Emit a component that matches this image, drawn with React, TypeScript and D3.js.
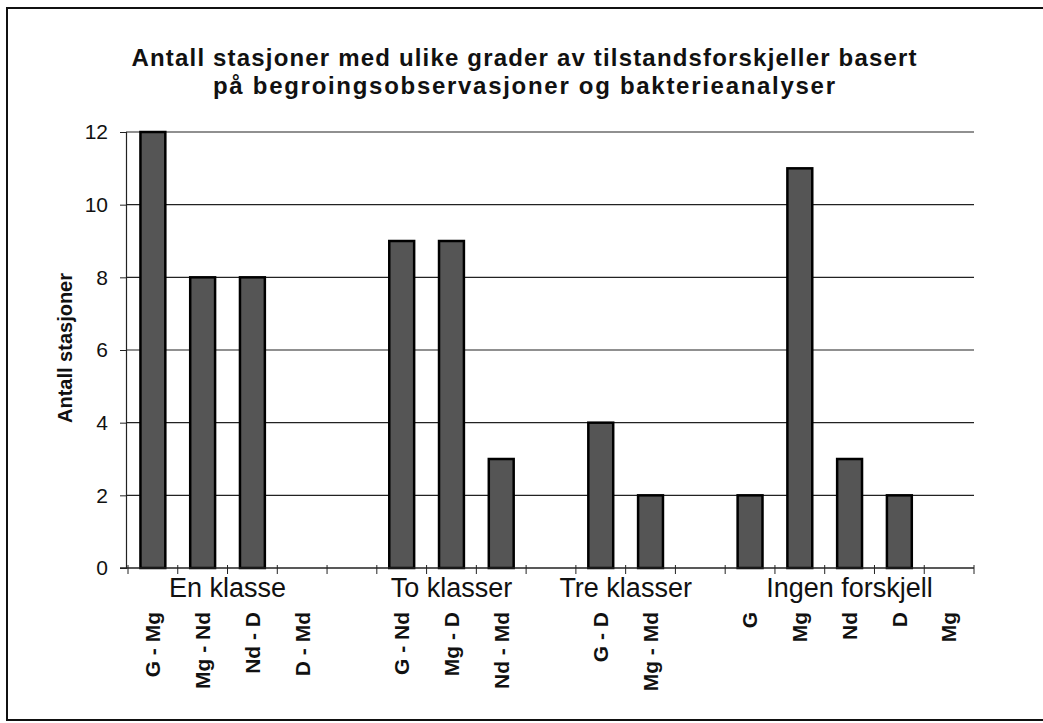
import React, { useEffect, useRef } from 'react';
import * as d3 from 'd3';

// category labels along the x axis ('' = empty slot between groups)
const categories = [
  'G - Mg', 'Mg - Nd', 'Nd - D', 'D - Md', '',
  'G - Nd', 'Mg - D', 'Nd - Md', '',
  'G - D', 'Mg - Md', '',
  'G', 'Mg', 'Nd', 'D', 'Mg',
];
// Antall stasjoner
const values = [12, 8, 8, 0, 0, 9, 9, 3, 0, 4, 2, 0, 2, 11, 3, 2, 0];
// group labels: first and last slot they cover
const groups = [
  { label: 'En klasse', from: 0, to: 3 },
  { label: 'To klasser', from: 5, to: 7 },
  { label: 'Tre klasser', from: 9, to: 10 },
  { label: 'Ingen forskjell', from: 12, to: 16 },
];
const yTicks = [0, 2, 4, 6, 8, 10, 12];
const titleLines = [
  'Antall stasjoner med ulike grader av tilstandsforskjeller basert',
  'på begroingsobservasjoner og bakterieanalyser',
];
const titleWidths = [785, 622];

const W = 1043;
const H = 723;
const FONT = '"Liberation Sans", Arial, Helvetica, sans-serif';

export default function App() {
  const ref = useRef<SVGSVGElement>(null);

  useEffect(() => {
    const svg = d3.select(ref.current);
    svg.selectAll('*').remove();

    const left = 126;
    const right = 974;
    const top = 132;
    const bottom = 568;

    // outer frame
    svg.append('rect')
      .attr('x', 7).attr('y', 8)
      .attr('width', 1060).attr('height', 712)
      .attr('fill', 'white')
      .attr('stroke', '#111').attr('stroke-width', 2);

    const idx = categories.map((_, i) => String(i));
    const x = d3.scaleBand<string>()
      .domain(idx)
      .range([128, right])
      .paddingInner(0.5)
      .paddingOuter(0.25);
    const step = x.step();
    const y = d3.scaleLinear().domain([0, 12]).range([bottom, top]);

    // gridlines
    svg.append('g')
      .selectAll('line')
      .data(yTicks.filter((d) => d > 0))
      .enter()
      .append('line')
      .attr('x1', left).attr('x2', right)
      .attr('y1', (d) => y(d)).attr('y2', (d) => y(d))
      .attr('stroke', '#222').attr('stroke-width', 1.2);

    // y axis
    const yAxis = d3.axisLeft(y).tickValues(yTicks).tickSize(6).tickPadding(12)
      .tickFormat((d) => String(d));
    const gy = svg.append('g')
      .attr('transform', `translate(${left},0)`)
      .call(yAxis);
    gy.select('.domain').attr('stroke', '#222').attr('stroke-width', 1.2);
    gy.selectAll('.tick line').attr('stroke', '#222');
    gy.selectAll('.tick text')
      .style('font-family', FONT)
      .style('font-size', '21px')
      .attr('fill', '#111');

    // bars
    svg.append('g')
      .selectAll('rect')
      .data(values.map((v, i) => ({ v, i })).filter((d) => d.v > 0))
      .enter()
      .append('rect')
      .attr('x', (d) => x(String(d.i)) as number)
      .attr('y', (d) => y(d.v))
      .attr('width', x.bandwidth())
      .attr('height', (d) => y(0) - y(d.v))
      .attr('fill', '#555')
      .attr('stroke', '#000')
      .attr('stroke-width', 2.5);

    // x axis line and ticks between categories
    svg.append('line')
      .attr('x1', 120).attr('x2', right)
      .attr('y1', bottom).attr('y2', bottom)
      .attr('stroke', '#222').attr('stroke-width', 1.4);
    svg.append('g')
      .selectAll('line')
      .data(d3.range(categories.length + 1))
      .enter()
      .append('line')
      .attr('x1', (i) => 128 + i * step).attr('x2', (i) => 128 + i * step)
      .attr('y1', bottom - 3).attr('y2', bottom + 6)
      .attr('stroke', '#222');

    // group labels
    svg.append('g')
      .selectAll('text')
      .data(groups)
      .enter()
      .append('text')
      .attr('x', (g) => ((x(String(g.from)) as number) + (x(String(g.to)) as number) + x.bandwidth()) / 2)
      .attr('y', 597)
      .attr('text-anchor', 'middle')
      .style('font-family', FONT)
      .style('font-size', '27px')
      .attr('fill', '#111')
      .text((g) => g.label);

    // rotated category labels
    svg.append('g')
      .selectAll('text')
      .data(categories.map((c, i) => ({ c, i })).filter((d) => d.c !== ''))
      .enter()
      .append('text')
      .attr('transform', (d) => `translate(${(x(String(d.i)) as number) + x.bandwidth() / 2},612) rotate(-90)`)
      .attr('dy', '0.35em')
      .attr('text-anchor', 'end')
      .style('font-family', FONT)
      .style('font-size', '21px')
      .style('font-weight', 'bold')
      .attr('fill', '#111')
      .text((d) => d.c);

    // y axis title
    svg.append('text')
      .attr('transform', 'translate(65,348) rotate(-90)')
      .attr('dy', '0.35em')
      .attr('text-anchor', 'middle')
      .style('font-family', FONT)
      .style('font-size', '20px')
      .style('font-weight', 'bold')
      .attr('fill', '#111')
      .text('Antall stasjoner');

    // chart title
    svg.append('g')
      .selectAll('text')
      .data(titleLines)
      .enter()
      .append('text')
      .attr('x', 524)
      .attr('y', (_, i) => 66 + i * 28)
      .attr('text-anchor', 'middle')
      .attr('textLength', (_, i) => titleWidths[i])
      .attr('lengthAdjust', 'spacing')
      .style('font-family', FONT)
      .style('font-size', '24px')
      .style('font-weight', 'bold')
      .attr('fill', '#111')
      .text((d) => d);
  }, []);

  return (
    <svg
      ref={ref}
      width={W}
      height={H}
      style={{ position: 'absolute', left: 0, top: 0, background: 'white' }}
    />
  );
}
